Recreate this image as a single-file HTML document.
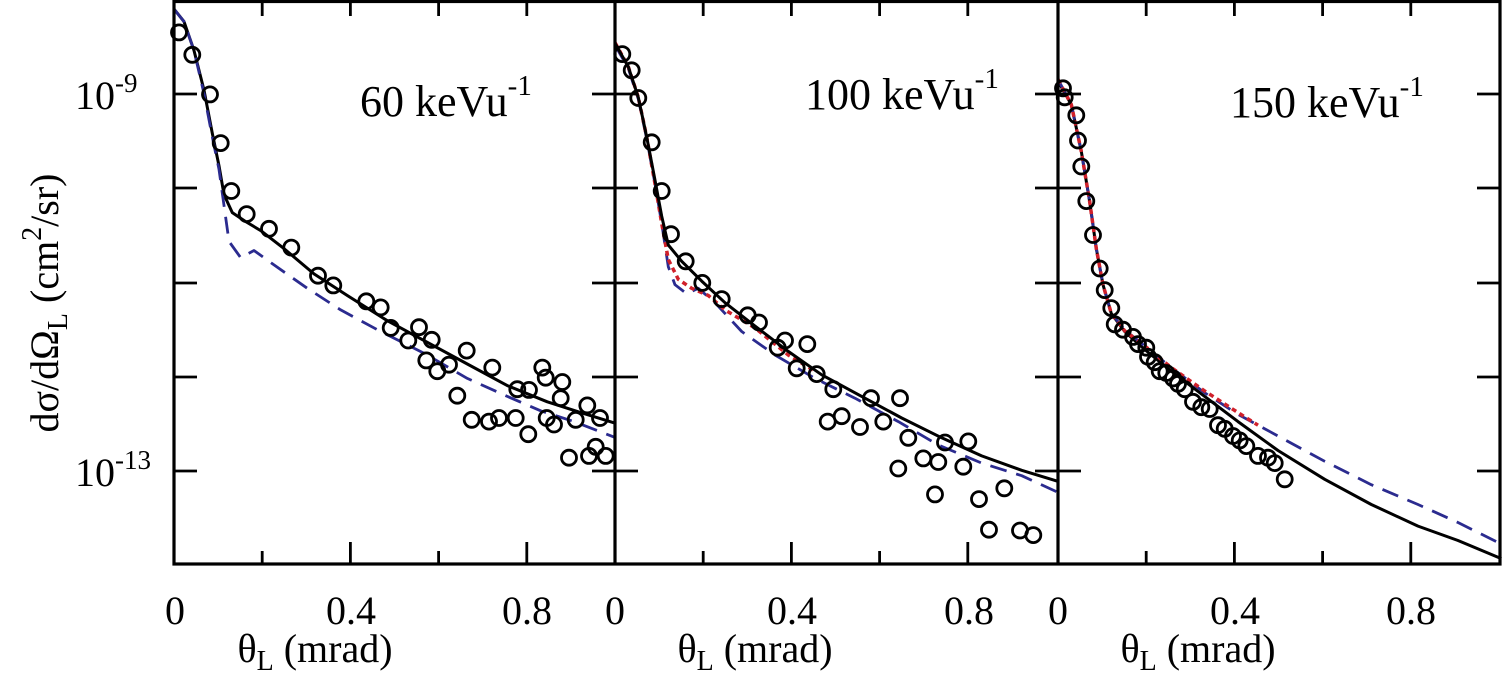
<!DOCTYPE html>
<html><head><meta charset="utf-8"><style>
html,body{margin:0;padding:0;background:#fff;}
svg{display:block;font-family:"Liberation Serif",serif;}
</style></head><body>
<svg id="s" width="1502" height="679" viewBox="0 0 1502 679" xmlns="http://www.w3.org/2000/svg">
<g id="g"></g>
<g font-size="40" fill="#000">
<text x="175" y="624" text-anchor="middle">0</text>
<text x="351" y="624" text-anchor="middle">0.4</text>
<text x="527" y="624" text-anchor="middle">0.8</text>
<text x="615" y="624" text-anchor="middle">0</text>
<text x="792" y="624" text-anchor="middle">0.4</text>
<text x="969" y="624" text-anchor="middle">0.8</text>
<text x="1058" y="624" text-anchor="middle">0</text>
<text x="1235" y="624" text-anchor="middle">0.4</text>
<text x="1411" y="624" text-anchor="middle">0.8</text>
<text x="315" y="662" text-anchor="middle">θ<tspan font-size="28" dy="8">L</tspan><tspan dy="-8"> (mrad)</tspan></text>
<text x="755" y="662" text-anchor="middle">θ<tspan font-size="28" dy="8">L</tspan><tspan dy="-8"> (mrad)</tspan></text>
<text x="1198" y="662" text-anchor="middle">θ<tspan font-size="28" dy="8">L</tspan><tspan dy="-8"> (mrad)</tspan></text>
<text x="75" y="109">10<tspan font-size="27" dy="-17">-9</tspan></text>
<text x="75" y="486">10<tspan font-size="27" dy="-17">-13</tspan></text>
<text transform="translate(58,303) rotate(-90)" text-anchor="middle">dσ/dΩ<tspan font-size="28" dy="9">L</tspan><tspan dy="-9"> (cm</tspan><tspan font-size="28" dy="-17">2</tspan><tspan dy="17">/sr)</tspan></text>
<text x="360" y="116" font-size="44">60 keVu<tspan font-size="29" dy="-21">-1</tspan></text>
<text x="805" y="109" font-size="44">100 keVu<tspan font-size="29" dy="-21">-1</tspan></text>
<text x="1230" y="117" font-size="44">150 keVu<tspan font-size="29" dy="-21">-1</tspan></text>
</g>
</svg>
<script>
var NS="http://www.w3.org/2000/svg",G=document.getElementById("g");
var VS=2.775;
function el(n,a){var e=document.createElementNS(NS,n);for(var k in a)e.setAttribute(k,a[k]);G.appendChild(e);return e;}
function line(x1,y1,x2,y2,w){el("line",{x1:x1,y1:y1,x2:x2,y2:y2,stroke:"#000","stroke-width":w||3});}
function path(off,pts,stroke,w,dash){var d="";pts.forEach(function(p,i){d+=(i?"L":"M")+(off+p[0]/3).toFixed(1)+","+(p[1]/VS).toFixed(1);});
 var a={d:d,fill:"none",stroke:stroke,"stroke-width":w,"stroke-linejoin":"round"};if(dash)a["stroke-dasharray"]=dash;el("path",a);}
function pts(off,arr){arr.forEach(function(p){el("circle",{cx:(off+p[0]/3).toFixed(1),cy:(p[1]/VS).toFixed(1),r:7.5,fill:"none",stroke:"#000","stroke-width":2.8});});}
var offs=[174,615,1058];
path(174,[[0,25],[30,60],[60,140],[90,250],[115,370],[135,460],[150,540],[175,590],[215,615],[260,640],[330,690],[420,760],[520,820],[640,890],[760,950],[880,1010],[1000,1070],[1120,1115],[1220,1145],[1326,1175]],"#000",3);
path(174,[[0,25],[30,60],[60,140],[90,260],[115,380],[135,470],[150,570],[165,670],[200,715],[240,695],[300,735],[400,800],[500,860],[620,920],[750,980],[880,1050],[1000,1100],[1100,1140],[1200,1170],[1326,1215]],"#2b2b8f",2.8,"17,10");
pts(174,[[15,90],[55,152],[108,262],[140,397],[172,530],[218,594],[285,635],[352,687],[432,765],[478,792],[577,836],[620,853],[650,910],[703,945],[735,908],[773,943],[757,1000],[790,1030],[825,1012],[878,973],[850,1098],[893,1165],[945,1170],[975,1160],[1025,1160],[955,1020],[1030,1080],[1065,1082],[1063,1205],[1105,1020],[1115,1048],[1165,1060],[1160,1105],[1118,1160],[1140,1178],[1205,1165],[1240,1125],[1278,1160],[1185,1270],[1245,1265],[1265,1240],[1295,1265]]);
path(615,[[0,125],[40,190],[70,275],[95,385],[120,510],[140,620],[160,740],[180,790],[215,815],[250,800],[300,840],[380,920],[480,985],[600,1050],[720,1105],[850,1170],[970,1235],[1100,1285],[1220,1320],[1326,1365]],"#2b2b8f",2.8,"17,10");
path(615,[[0,118],[40,185],[70,270],[95,380],[120,510],[140,620],[160,720],[190,775],[230,800],[280,820],[330,860],[420,910],[520,985],[600,1030]],"#d0202a",3.5,"5,4");
path(615,[[0,120],[40,185],[70,270],[95,380],[120,500],[140,600],[160,680],[200,725],[260,780],[330,840],[420,905],[520,975],[620,1040],[740,1100],[860,1160],[980,1215],[1100,1265],[1220,1305],[1326,1335]],"#000",3);
pts(615,[[22,150],[50,195],[70,272],[110,395],[140,530],[168,650],[212,725],[262,785],[320,830],[398,875],[432,895],[510,945],[488,965],[577,955],[545,1022],[605,1038],[655,1080],[768,1105],[855,1105],[638,1170],[680,1155],[735,1185],[805,1170],[880,1215],[990,1228],[1060,1225],[925,1272],[970,1282],[1045,1295],[850,1300],[960,1372],[1092,1385],[1168,1355],[1122,1470],[1215,1472],[1255,1485]]);
path(1058,[[0,225],[40,290],[70,420],[95,560],[115,690],[135,790],[160,870],[200,920],[260,970],[340,1030],[440,1100],[540,1170],[660,1250],[800,1330],[940,1400],[1080,1460],[1200,1500],[1330,1550]],"#000",3);
path(1058,[[0,220],[40,290],[70,420],[95,560],[115,690],[135,790],[160,870],[200,915],[260,960],[340,1020],[440,1090],[540,1150],[660,1210],[800,1280],[940,1345],[1080,1400],[1200,1450],[1330,1510]],"#2b2b8f",2.8,"17,10");
path(1058,[[0,220],[40,290],[70,420],[95,560],[115,690],[135,790],[160,870],[200,918],[260,960],[340,1020],[440,1085],[540,1145],[600,1180]],"#d0202a",3.5,"5,4");
pts(1058,[[15,245],[20,270],[55,320],[60,390],[70,462],[85,558],[105,652],[125,745],[140,805],[160,855],[170,900],[195,915],[225,935],[240,955],[265,965],[270,990],[290,1005],[305,1030],[325,1035],[345,1050],[360,1065],[380,1080],[405,1115],[430,1130],[455,1135],[480,1180],[500,1190],[525,1210],[545,1222],[565,1238],[600,1265],[630,1270],[650,1285],[680,1330]]);
var ys=[94,188,283,377,471];
offs.forEach(function(o,i){
 var r=(i<2?offs[i+1]:1500);
 for(var k=1;k<=4;k++){var x=o+k*88.2;var L=(k%2==0)?22:13;line(x,564,x,564-L,2.8);line(x,1,x,16,2.8);}
 ys.forEach(function(y){line(o,y,o+23,y,2.8);line(r,y,r-23,y,2.8);});
});
el("rect",{x:174,y:1.5,width:1326,height:562.5,fill:"none",stroke:"#000","stroke-width":3.2});
line(615,0,615,565,3.2);line(1058,0,1058,565,3.2);
</script>
</body></html>
